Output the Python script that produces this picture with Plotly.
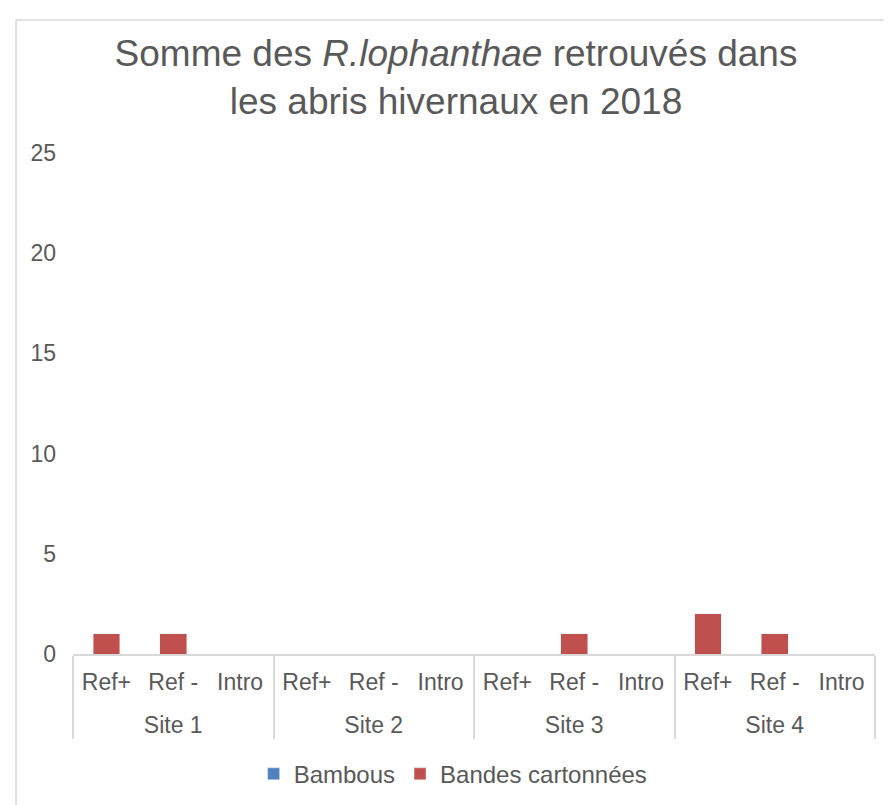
import plotly.graph_objects as go

sites = ["Site 1"] * 3 + ["Site 2"] * 3 + ["Site 3"] * 3 + ["Site 4"] * 3
refs = ["Ref+", "Ref -", "Intro"] * 4
bambous = [0, 0, 0, 0, 0, 0, 0, 0, 0, 0, 0, 0]
bandes = [1, 1, 0, 0, 0, 0, 0, 1, 0, 2, 1, 0]

_GREY = "#595959"
_FONT = "Liberation Sans, Arial, sans-serif"

# labels drawn at 23px inside a smaller base font, so the <br> before the
# site name gives the gap between the two label rows
_span = "<span style='font-size:23px'>{}</span>"
ref_labels = [_span.format(r) for r in refs]
site_labels = ["<br>" + _span.format(s) for s in sites]

fig = go.Figure()
fig.add_trace(go.Bar(x=[site_labels, ref_labels], y=bambous, name="Bambous",
                     marker_color="#4F81BD"))
fig.add_trace(go.Bar(x=[site_labels, ref_labels], y=bandes, name="Bandes cartonnées",
                     marker_color="#C0504D"))

fig.update_layout(
    width=892, height=805,
    barmode="stack", bargap=0.6,
    paper_bgcolor="white", plot_bgcolor="white",
    font=dict(family=_FONT, color=_GREY, size=23),
    margin=dict(l=65, r=25, t=145, b=159),
    title=dict(text="Somme des <i>R.lophanthae</i> retrouvés dans<br>les abris hivernaux en 2018",
               x=448 / 892, xanchor="center", y=0.928, yanchor="top",
               font=dict(size=37, color=_GREY)),
    legend=dict(orientation="h", x=0.474, xanchor="center", y=-0.195, yanchor="top",
                font=dict(size=24, color=_GREY), itemwidth=30, traceorder="normal"),
    xaxis=dict(type="multicategory", showline=True, linecolor="#D9D9D9", linewidth=2,
               dividercolor="#D9D9D9", dividerwidth=2, showdividers=True,
               tickfont=dict(size=19.5, color=_GREY), ticks="", automargin=False,
               ticklabelstandoff=11),
    yaxis=dict(range=[0, 25], dtick=5, showgrid=False, zeroline=False,
               showline=False, tickfont=dict(size=23, color=_GREY),
               ticklabelstandoff=16, automargin=False),
    shapes=[dict(type="rect", xref="paper", yref="paper",
                 x0=-0.071, x1=1.06, y0=-0.32, y1=1.2654,
                 line=dict(color="#D9D9D9", width=1.5), fillcolor="rgba(0,0,0,0)",
                 layer="below")],
)

fig.write_html("out.html")
